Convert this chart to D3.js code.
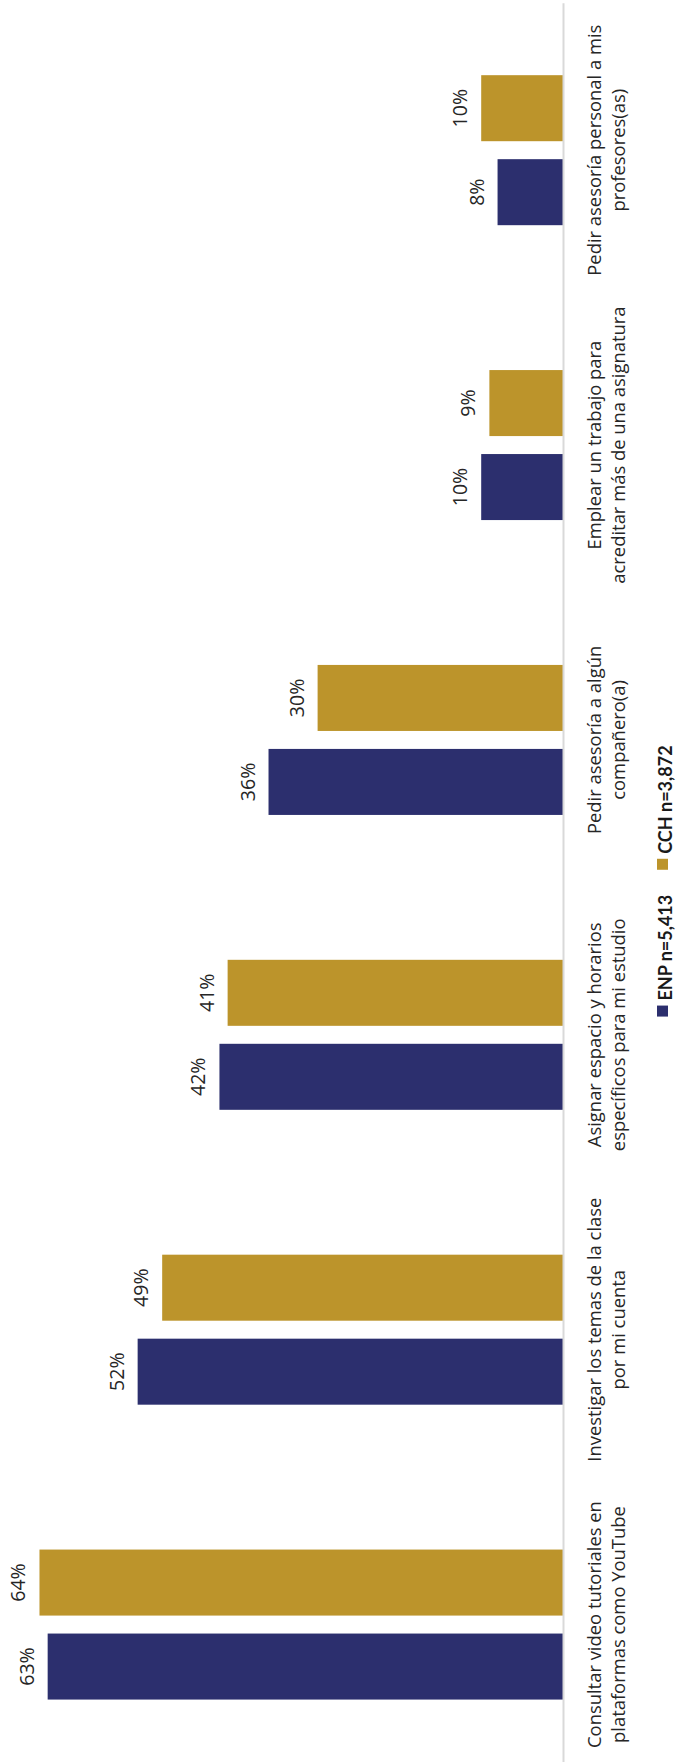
<!DOCTYPE html>
<html>
<head>
<meta charset="utf-8">
<script src="https://cdn.jsdelivr.net/npm/d3@7"></script>
<style>
  html, body { margin: 0; padding: 0; background: #ffffff; }
  svg { display: block; }
</style>
</head>
<body>
<div id="chart"></div>
<script>
// Study strategies reported by students, ENP vs CCH (percent of respondents)
const categories = [
  "Consultar video tutoriales en\nplataformas como YouTube",
  "Investigar los temas de la clase\npor mi cuenta",
  "Asignar espacio y horarios\nespecíficos para mi estudio",
  "Pedir asesoría a algún\ncompañero(a)",
  "Emplear un trabajo para\nacreditar más de una asignatura",
  "Pedir asesoría personal a mis\nprofesores(as)"
];
const seriesNames = ["ENP n=5,413", "CCH n=3,872"];
const enpValues = [63, 52, 42, 36, 10, 8];
const cchValues = [64, 49, 41, 30, 9, 10];
const seriesColors = ["#2C2F6E", "#BC942B"];

const W = 677, H = 1762;
const axisX = 563;          // baseline (0 %) of the bars
const pxPerPct = 8.18;

const rows = categories.map((c, i) => ({
  category: c,
  values: [
    { series: seriesNames[0], value: enpValues[i] },
    { series: seriesNames[1], value: cchValues[i] }
  ]
}));

const svg = d3.select("#chart").append("svg")
  .attr("width", W).attr("height", H)
  .attr("viewBox", [0, 0, W, H]);

// Value axis runs right-to-left (chart is laid on its side)
const x = d3.scaleLinear().domain([0, 70]).range([axisX, axisX - 70 * pxPerPct]);

// Category axis: first category at the bottom
const y = d3.scaleBand().domain(categories).range([1772, 2.75]).padding(0);

// Within each category: ENP below, CCH above
const y1 = d3.scaleBand().domain(seriesNames).range([75, -75]).paddingInner(0.214);
const color = d3.scaleOrdinal().domain(seriesNames).range(seriesColors);

const groups = svg.append("g").selectAll("g")
  .data(rows)
  .join("g")
  .attr("transform", d => `translate(0,${y(d.category) + y.bandwidth() / 2})`);

groups.selectAll("rect")
  .data(d => d.values)
  .join("rect")
  .attr("x", d => x(d.value))
  .attr("y", d => y1(d.series))
  .attr("width", d => x(0) - x(d.value))
  .attr("height", y1.bandwidth())
  .attr("fill", d => color(d.series));

groups.selectAll("text.value")
  .data(d => d.values)
  .join("text")
  .attr("class", "value")
  .attr("transform", d => `translate(${x(d.value) - 14},${y1(d.series) + y1.bandwidth() / 2}) rotate(-90)`)
  .attr("text-anchor", "middle")
  .attr("font-family", "'Open Sans', sans-serif")
  .attr("font-size", 19.5)
  .attr("fill", "#262626")
  .text(d => d.value + "%");

// Category axis line and wrapped, rotated labels
const axis = svg.append("g")
  .attr("transform", `translate(${axisX},0)`)
  .call(d3.axisRight(y).tickSize(0).tickSizeOuter(0).tickPadding(0));

axis.select(".domain").attr("stroke", "#D9D9D9").attr("stroke-width", 2);
axis.selectAll(".tick text").remove();
axis.selectAll(".tick").each(function(d) {
  const lines = d.split("\n");
  const t = d3.select(this).append("text")
    .attr("transform", "rotate(-90)")
    .attr("text-anchor", "middle")
    .attr("font-family", "'Open Sans', sans-serif")
    .attr("font-size", 18.4)
    .attr("fill", "#262626");
  lines.forEach((ln, i) => {
    t.append("tspan").attr("x", 0).attr("y", 38 + i * 24).text(ln);
  });
});

// Legend, rotated to read bottom-to-top, centred on the page height
const legend = svg.append("g");
const items = legend.selectAll("g").data(seriesNames).join("g");
items.append("rect")
  .attr("x", 0).attr("y", -15).attr("width", 11).attr("height", 11)
  .attr("fill", d => color(d));
items.append("text")
  .attr("x", 16).attr("y", 0)
  .attr("font-family", "Lato, sans-serif")
  .attr("font-weight", "bold")
  .attr("font-size", 18)
  .attr("fill", "#1a1a1a")
  .text(d => d);

let offset = 0;
items.each(function() {
  const g = d3.select(this);
  g.attr("transform", `translate(${offset},0)`);
  offset += 16 + g.select("text").node().getComputedTextLength() + 25;
});
const legendLen = offset - 25;
legend.attr("transform", `translate(672,${H / 2 + legendLen / 2}) rotate(-90)`);
</script>
</body>
</html>
